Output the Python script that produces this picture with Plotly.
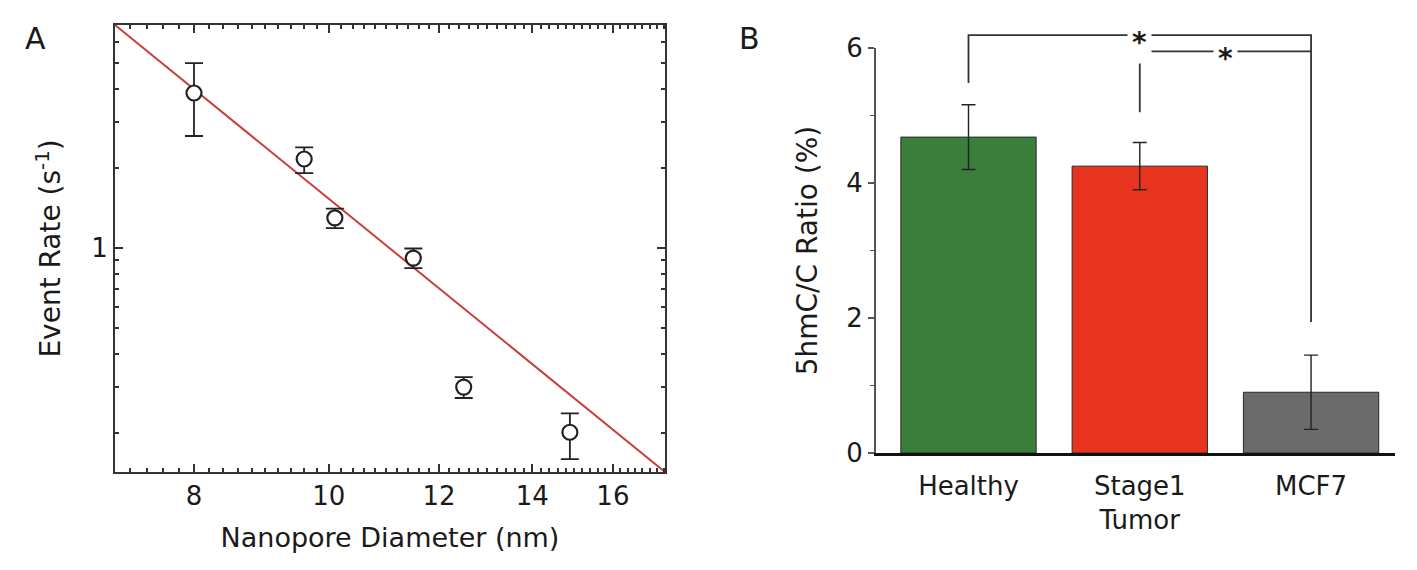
import math
import plotly.graph_objects as go

# ---------------- Panel A data (log-log) ----------------
diam_nm = [8.0, 9.6, 10.1, 11.5, 12.5, 14.9]
event_rate = [3.85, 2.17, 1.30, 0.917, 0.299, 0.202]
rate_err_plus = [1.14, 0.23, 0.11, 0.08, 0.027, 0.036]
rate_err_minus = [1.20, 0.25, 0.11, 0.077, 0.027, 0.042]
fit_diam = [7.02, 17.44]
fit_rate = [6.95, 0.143]
x_major_ticks = [8, 10, 12, 14, 16]
x_major_labels = ["8", "10", "12", "14", "16"]
y_major_ticks = [1]
y_major_labels = ["1"]

# ---------------- Panel B data (bars) ----------------
groups = ["Healthy", "Stage1<br>Tumor", "MCF7"]
ratio = [4.68, 4.25, 0.90]
ratio_err = [0.48, 0.35, 0.55]
bar_colors = ["#3a7e3c", "#e8341f", "#6b6b6b"]
b_y_ticks = [0, 2, 4, 6]
b_y_labels = ["0", "2", "4", "6"]
# significance brackets
sig_left = [0, 1]
sig_right = [2, 2]
sig_top = [6.19, 5.95]
sig_left_end = [5.48, 5.05]
sig_right_end = [1.94, 5.95]
sig_label = ["*", "*"]

OFF = 8                      # page body margin
W, H = 1417 - OFF, 570 - OFF
FONT = "DejaVu Sans"
TXT = "#1a1a1a"


def fx(px):
    return (px - OFF) / W


def fy(py):
    return (H - (py - OFF)) / H


# layout geometry (reference pixel positions)
ax_dom_x = [fx(115), fx(665)]
ax_dom_y = [fy(472), fy(25)]
bx_dom_x = [fx(876), fx(1395)]
by_dom_y = [fy(453), fy(48)]
br_dom_y = [by_dom_y[0], fy(14)]
br_top = 6 * (br_dom_y[1] - br_dom_y[0]) / (by_dom_y[1] - by_dom_y[0])

x_minor = [round(7.0 + 0.2 * i, 1) for i in range(1, 53)]
x_minor = [v for v in x_minor if v not in x_major_ticks]
y_minor = [0.2, 0.3, 0.4, 0.5, 0.6, 0.7, 0.8, 0.9, 2, 3, 4, 5, 6]

fig = go.Figure()

# fit line
fig.add_trace(go.Scatter(
    x=fit_diam, y=fit_rate, mode="lines",
    line=dict(color="#c8403c", width=2),
    xaxis="x", yaxis="y", hoverinfo="skip"))

# data points
fig.add_trace(go.Scatter(
    x=diam_nm, y=event_rate, mode="markers",
    marker=dict(symbol="circle", size=15, color="white",
                line=dict(color="#222222", width=2.2)),
    error_y=dict(type="data", symmetric=False, array=rate_err_plus,
                 arrayminus=rate_err_minus, color="#222222",
                 thickness=1.8, width=9),
    xaxis="x", yaxis="y"))

# bars
fig.add_trace(go.Bar(
    x=list(range(len(groups))), y=ratio, width=0.79,
    marker=dict(color=bar_colors, line=dict(color="#2a2a2a", width=1)),
    error_y=dict(type="data", array=ratio_err, color="#222222",
                 thickness=1.4, width=7),
    xaxis="x2", yaxis="y2"))

# significance brackets
for i in range(len(sig_left)):
    xl, xr = sig_left[i], sig_right[i]
    fig.add_trace(go.Scatter(
        x=[xl, xl, xr, xr],
        y=[sig_left_end[i], sig_top[i], sig_top[i], sig_right_end[i]],
        mode="lines", line=dict(color="#333333", width=1.8),
        xaxis="x2", yaxis="y3", hoverinfo="skip"))

annotations = []
for i in range(len(sig_left)):
    annotations.append(dict(
        x=(sig_left[i] + sig_right[i]) / 2, y=sig_top[i],
        xref="x2", yref="y3", text="<b>" + sig_label[i] + "</b>", showarrow=False,
        font=dict(family=FONT, size=28, color=TXT),
        bgcolor="white", borderpad=4, yshift=-7))

annotations.append(dict(x=fx(35), y=fy(38), xref="paper", yref="paper",
                        text="A", showarrow=False, xanchor="center", yanchor="middle",
                        font=dict(family=FONT, size=30, color=TXT)))
annotations.append(dict(x=fx(750), y=fy(38), xref="paper", yref="paper",
                        text="B", showarrow=False, xanchor="center", yanchor="middle",
                        font=dict(family=FONT, size=30, color=TXT)))

fig.update_layout(
    width=W, height=H, autosize=False,
    margin=dict(l=0, r=0, t=0, b=0, pad=0),
    paper_bgcolor="white", plot_bgcolor="rgba(0,0,0,0)",
    showlegend=False,
    font=dict(family=FONT, size=26, color=TXT),
    annotations=annotations,
    xaxis=dict(
        type="log", domain=ax_dom_x, anchor="y", automargin=False,
        range=[math.log10(fit_diam[0]), math.log10(fit_diam[1])],
        showline=True, linecolor="#333333", linewidth=2, mirror="ticks",
        ticks="inside", ticklen=8, tickwidth=1.5, tickcolor="#333333",
        tickmode="array", tickvals=x_major_ticks, ticktext=x_major_labels,
        minor=dict(tickmode="array", tickvals=x_minor, ticks="inside",
                   ticklen=4, tickwidth=1.5, tickcolor="#333333", showgrid=False),
        showgrid=False, zeroline=False,
        title=dict(text="Nanopore Diameter (nm)", standoff=18,
                   font=dict(family=FONT, size=27, color=TXT)),
        tickfont=dict(family=FONT, size=26, color=TXT)),
    yaxis=dict(
        type="log", domain=ax_dom_y, anchor="x", automargin=False,
        range=[math.log10(fit_rate[1]), math.log10(fit_rate[0])],
        showline=True, linecolor="#333333", linewidth=2, mirror="ticks",
        ticks="inside", ticklen=8, tickwidth=1.5, tickcolor="#333333",
        tickmode="array", tickvals=y_major_ticks, ticktext=y_major_labels,
        minor=dict(tickmode="array", tickvals=y_minor, ticks="inside",
                   ticklen=4, tickwidth=1.5, tickcolor="#333333", showgrid=False),
        showgrid=False, zeroline=False,
        title=dict(text="Event Rate (s<sup>-1</sup>)", standoff=22,
                   font=dict(family=FONT, size=28, color=TXT)),
        tickfont=dict(family=FONT, size=26, color=TXT)),
    xaxis2=dict(
        domain=bx_dom_x, anchor="y2", range=[-0.54, 2.49], automargin=False,
        showline=True, linecolor="#111111", linewidth=3,
        ticks="", tickmode="array", tickvals=list(range(len(groups))),
        ticktext=groups, showgrid=False, zeroline=False, ticklabelstandoff=8,
        tickfont=dict(family=FONT, size=26, color=TXT)),
    yaxis2=dict(
        domain=by_dom_y, anchor="x2", range=[0, 6], automargin=False,
        showline=True, linecolor="#555555", linewidth=2,
        ticks="outside", ticklen=6, tickwidth=1.5, tickcolor="#555555",
        tickmode="array", tickvals=b_y_ticks, ticktext=b_y_labels,
        minor=dict(tickmode="array", tickvals=[1, 3, 5], ticks="outside",
                   ticklen=4, tickwidth=1.2, tickcolor="#555555", showgrid=False),
        showgrid=False, zeroline=False,
        title=dict(text="5hmC/C Ratio (%)", standoff=20,
                   font=dict(family=FONT, size=28, color=TXT)),
        tickfont=dict(family=FONT, size=26, color=TXT)),
    yaxis3=dict(domain=br_dom_y, anchor="x2", range=[0, br_top],
                visible=False, fixedrange=True, automargin=False),
)

fig.write_html("out.html")
